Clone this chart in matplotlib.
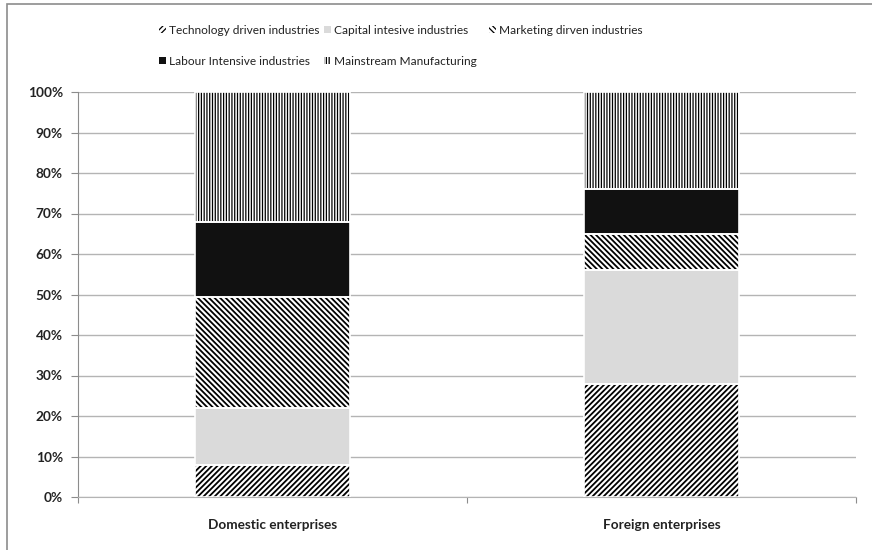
import matplotlib.pyplot as plt
from matplotlib.patches import Rectangle
from matplotlib.ticker import PercentFormatter

# Share of enterprises by industry type (%), stacked bottom to top
groups = ["Domestic enterprises", "Foreign enterprises"]
industries = [
    "Technology driven industries",
    "Capital intesive industries",
    "Marketing dirven industries",
    "Labour Intensive industries",
    "Mainstream Manufacturing",
]
technology = [8.0, 28.0]
capital = [14.0, 28.0]
marketing = [27.5, 9.0]
labour = [18.5, 11.0]
mainstream = [32.0, 24.0]

series = [technology, capital, marketing, labour, mainstream]
styles = [
    dict(facecolor="white", hatch="//////"),
    dict(facecolor="#dadada", hatch=None),
    dict(facecolor="white", hatch="\\\\\\\\\\\\"),
    dict(facecolor="#111111", hatch=None),
    dict(facecolor="white", hatch="||||||"),
]
hatch_widths = [1.3, 1.0, 1.3, 1.0, 0.9]

plt.rcParams["font.family"] = ["Lato", "DejaVu Sans"]

fig = plt.figure(figsize=(8.72, 5.5), dpi=100)
ax = fig.add_axes([78 / 872, 53 / 550, 778 / 872, 405 / 550])

x = [0.5, 1.5]
bottom = [0.0, 0.0]
handles = []
for vals, label, st, hw in zip(series, industries, styles, hatch_widths):
    plt.rcParams["hatch.linewidth"] = hw
    # hatch takes the edge colour, so fill first and outline separately
    bars = ax.bar(x, vals, width=0.40, bottom=bottom, label=label,
                  edgecolor="black", linewidth=0, zorder=3, **st)
    ax.bar(x, vals, width=0.40, bottom=bottom, fill=False,
           edgecolor="white", linewidth=1.2, zorder=4)
    handles.append(bars)
    bottom = [b + v for b, v in zip(bottom, vals)]

ax.set_xlim(0, 2)
ax.set_ylim(0, 100)
ax.set_yticks(range(0, 101, 10))
ax.yaxis.set_major_formatter(PercentFormatter(decimals=0))
ax.grid(axis="y", color="#b4b4b4", linewidth=1.0, zorder=0)

ax.set_xticks([0, 1, 2])
ax.set_xticklabels([])
ax.set_xticks(x, minor=True)
ax.set_xticklabels(groups, minor=True, fontsize=9.8, fontweight="bold", color="#222222")
ax.tick_params(axis="x", which="minor", length=0, pad=16)
ax.tick_params(axis="x", which="major", length=4, color="#8c8c8c")
ax.tick_params(axis="y", length=5, pad=6, color="#8c8c8c", labelsize=9.8,
               labelcolor="#222222")
for lbl in ax.get_yticklabels():
    lbl.set_fontweight("bold")

for side in ["top", "right"]:
    ax.spines[side].set_visible(False)
ax.spines["left"].set_color("#8c8c8c")
ax.spines["bottom"].set_color("#b4b4b4")

# legend laid out as three fixed-width columns, filled row by row
columns = [[0, 3], [1, 4], [2]]
col_x = [159, 324, 489]
for idx, cx in zip(columns, col_x):
    leg = fig.legend(handles=[handles[i] for i in idx],
                     labels=[industries[i] for i in idx],
                     loc="upper left", bbox_to_anchor=(cx / 872, 1 - 25 / 550),
                     frameon=False, fontsize=8.6, handlelength=0.55, handleheight=0.55,
                     handletextpad=0.3, labelspacing=1.65, borderpad=0,
                     borderaxespad=0)
    for t in leg.get_texts():
        t.set_color("#222222")

# chart area frame
fig.add_artist(Rectangle((7 / 872, -0.05), 1.0, 1.05 - 4 / 550, transform=fig.transFigure,
                         fill=False, edgecolor="#8c8c8c", linewidth=1.2))

fig.savefig("out.png", dpi=100)
